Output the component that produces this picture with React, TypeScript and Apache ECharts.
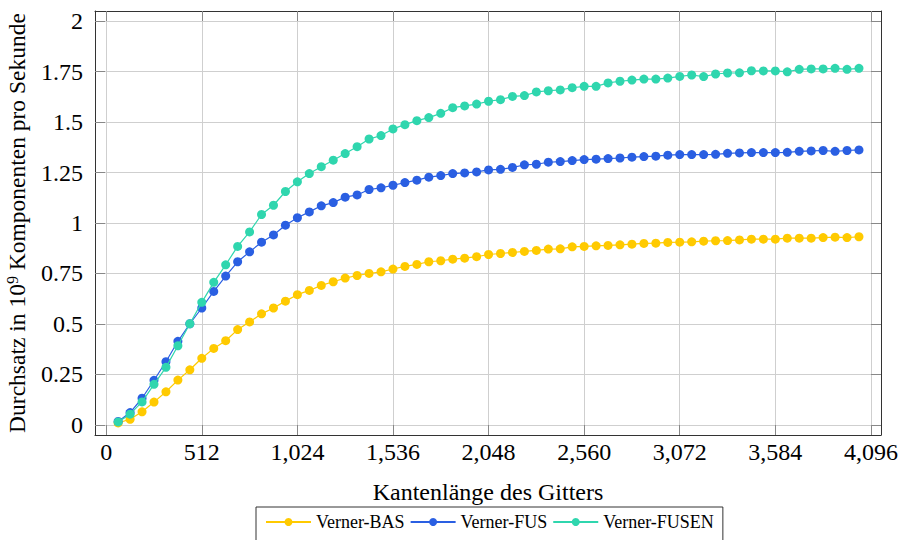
import React, { useEffect, useRef } from "react";
import * as echarts from "echarts";

const xValues = [
  64, 128, 192, 256, 320, 384, 448, 512, 576, 640, 704, 768, 832, 896, 960, 1024,
  1088, 1152, 1216, 1280, 1344, 1408, 1472, 1536, 1600, 1664, 1728, 1792, 1856, 1920, 1984, 2048,
  2112, 2176, 2240, 2304, 2368, 2432, 2496, 2560, 2624, 2688, 2752, 2816, 2880, 2944, 3008, 3072,
  3136, 3200, 3264, 3328, 3392, 3456, 3520, 3584, 3648, 3712, 3776, 3840, 3904, 3968, 4032,
];

const bas = [
  0.010, 0.028, 0.065, 0.113, 0.164, 0.222, 0.273, 0.330, 0.379, 0.417, 0.472, 0.510, 0.550, 0.579, 0.613, 0.645,
  0.666, 0.691, 0.709, 0.727, 0.740, 0.750, 0.758, 0.772, 0.785, 0.795, 0.808, 0.813, 0.821, 0.826, 0.833, 0.844,
  0.849, 0.854, 0.859, 0.864, 0.871, 0.872, 0.882, 0.884, 0.887, 0.889, 0.892, 0.895, 0.899, 0.900, 0.904, 0.905,
  0.907, 0.910, 0.912, 0.913, 0.916, 0.920, 0.920, 0.920, 0.925, 0.925, 0.925, 0.928, 0.930, 0.928, 0.932,
];

const fus = [
  0.017, 0.061, 0.132, 0.221, 0.313, 0.414, 0.501, 0.579, 0.661, 0.737, 0.808, 0.857, 0.905, 0.941, 0.989, 1.026,
  1.055, 1.085, 1.101, 1.128, 1.139, 1.166, 1.174, 1.187, 1.200, 1.212, 1.227, 1.235, 1.245, 1.248, 1.253, 1.263,
  1.266, 1.275, 1.288, 1.291, 1.301, 1.304, 1.309, 1.314, 1.316, 1.319, 1.322, 1.326, 1.329, 1.331, 1.336, 1.339,
  1.339, 1.339, 1.340, 1.345, 1.347, 1.349, 1.349, 1.349, 1.350, 1.355, 1.357, 1.359, 1.355, 1.359, 1.362,
];

const fusen = [
  0.015, 0.053, 0.114, 0.201, 0.285, 0.392, 0.501, 0.607, 0.706, 0.793, 0.884, 0.956, 1.042, 1.088, 1.156, 1.204,
  1.245, 1.279, 1.311, 1.344, 1.378, 1.416, 1.433, 1.466, 1.487, 1.507, 1.522, 1.543, 1.571, 1.580, 1.589, 1.603,
  1.611, 1.627, 1.631, 1.649, 1.655, 1.659, 1.670, 1.677, 1.677, 1.694, 1.702, 1.708, 1.713, 1.713, 1.718, 1.726,
  1.733, 1.725, 1.738, 1.743, 1.744, 1.754, 1.753, 1.753, 1.749, 1.761, 1.763, 1.763, 1.766, 1.761, 1.766,
];

const xTicks = [0, 512, 1024, 1536, 2048, 2560, 3072, 3584, 4096];
const yTicks = [0, 0.25, 0.5, 0.75, 1, 1.25, 1.5, 1.75, 2];

const seriesNames = ["Verner-BAS", "Verner-FUS", "Verner-FUSEN"];
const seriesColors = ["#FFCA00", "#2A5FE2", "#2FD6AE"];
const seriesData = [bas, fus, fusen];

const FONT = "'Liberation Serif', 'Times New Roman', serif";

export default function App() {
  const ref = useRef<HTMLDivElement>(null);

  useEffect(() => {
    if (!ref.current) return;
    const chart = echarts.init(ref.current, undefined, { renderer: "svg" });

    const tickCommon = {
      show: true,
      inside: true,
      length: 10,
      lineStyle: { color: "#888", width: 1 },
    };
    const lineCommon = { show: true, onZero: false, lineStyle: { color: "#333", width: 1 } };
    const splitCommon = { show: true, lineStyle: { color: "#cfcfcf", width: 1 } };

    chart.setOption({
      animation: false,
      textStyle: { fontFamily: FONT },
      grid: { left: 95, right: 23, top: 11, bottom: 105, containLabel: false, outerBoundsMode: "none" },
      legend: {
        data: seriesNames,
        left: 256,
        top: 507,
        orient: "horizontal",
        itemWidth: 45,
        itemHeight: 10,
        itemGap: 5,
        padding: [6, 9, 14, 9],
        borderColor: "#333",
        borderWidth: 1,
        textStyle: { fontFamily: FONT, fontSize: 18, color: "#000" },
      },
      xAxis: [
        {
          type: "value",
          min: -60,
          max: 4150,
          position: "bottom",
          name: "Kantenlänge des Gitters",
          nameLocation: "middle",
          nameGap: 45,
          nameTextStyle: { fontFamily: FONT, fontSize: 24, color: "#000" },
          axisLine: lineCommon,
          axisTick: { ...tickCommon, customValues: xTicks },
          axisLabel: {
            customValues: xTicks,
            fontFamily: FONT,
            fontSize: 24,
            color: "#000",
            margin: 5,
            formatter: (v: number) => v.toLocaleString("en-US"),
          },
          splitLine: splitCommon,
        },
        {
          type: "value",
          min: -60,
          max: 4150,
          position: "top",
          axisLine: lineCommon,
          axisTick: { ...tickCommon, customValues: xTicks },
          axisLabel: { show: false },
          splitLine: { show: false },
        },
      ],
      yAxis: [
        {
          type: "value",
          min: -0.05,
          max: 2.05,
          position: "left",
          name: "Durchsatz in 10{sup|9} Komponenten pro Sekunde",
          nameLocation: "middle",
          nameGap: 65,
          nameRotate: 90,
          nameTextStyle: {
            fontFamily: FONT,
            fontSize: 23.5,
            lineHeight: 26,
            color: "#000",
            rich: {
              sup: { fontFamily: FONT, fontSize: 16, lineHeight: 12, verticalAlign: "top", color: "#000" },
            },
          },
          axisLine: lineCommon,
          axisTick: { ...tickCommon, customValues: yTicks },
          axisLabel: {
            customValues: yTicks,
            fontFamily: FONT,
            fontSize: 24,
            color: "#000",
            margin: 12,
            formatter: (v: number) => String(v),
          },
          splitLine: splitCommon,
        },
        {
          type: "value",
          min: -0.05,
          max: 2.05,
          position: "right",
          axisLine: lineCommon,
          axisTick: { ...tickCommon, customValues: yTicks },
          axisLabel: { show: false },
          splitLine: { show: false },
        },
      ],
      series: seriesNames.map((name, i) => ({
        name,
        type: "line",
        xAxisIndex: 0,
        yAxisIndex: 0,
        data: xValues.map((x, j) => [x, seriesData[i][j]]),
        symbol: "circle",
        symbolSize: 9,
        showSymbol: true,
        itemStyle: { color: seriesColors[i] },
        lineStyle: { color: seriesColors[i], width: 1.2 },
        z: 2 + i,
      })),
    });

    return () => chart.dispose();
  }, []);

  return <div ref={ref} style={{ width: 904, height: 540, position: "absolute", left: 0, top: 0 }} />;
}
